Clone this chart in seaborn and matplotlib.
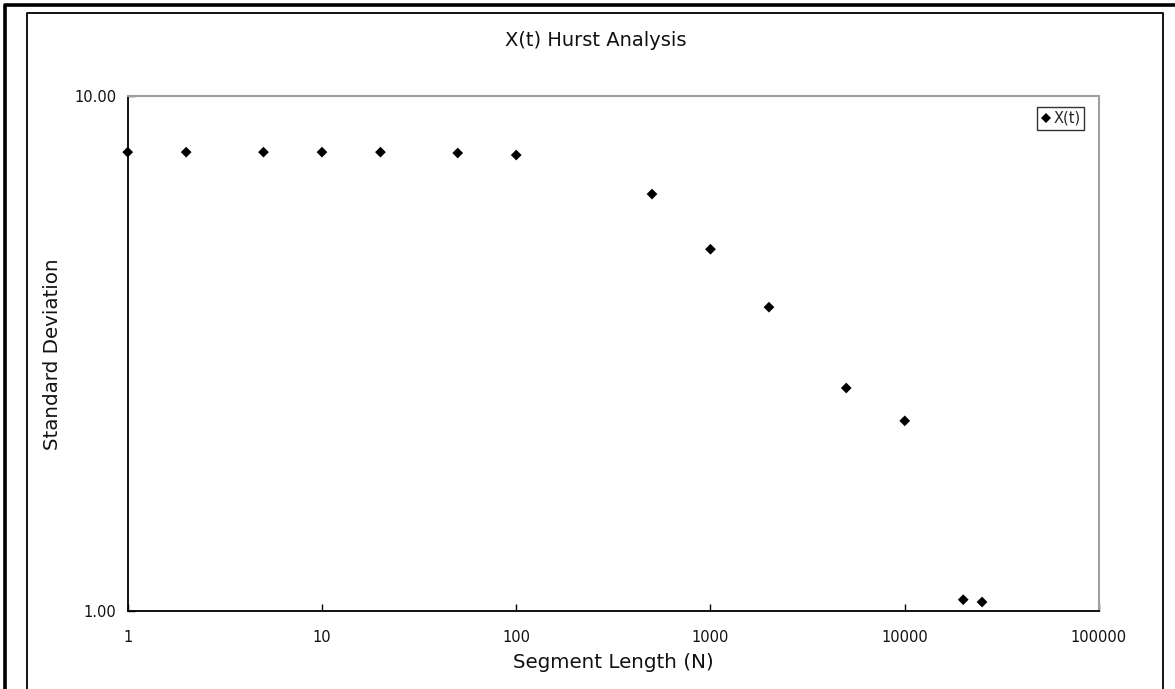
import matplotlib
matplotlib.use("Agg")
import matplotlib.pyplot as plt
import seaborn as sns
import pandas as pd
from matplotlib.lines import Line2D
from matplotlib.ticker import FixedLocator, FixedFormatter, NullLocator

segment_length = [1, 2, 5, 10, 20, 50, 100, 500, 1000, 2000, 5000, 10000, 20000, 25000]
std_dev = [7.78, 7.78, 7.78, 7.78, 7.78, 7.75, 7.68, 6.45, 5.04, 3.89, 2.71, 2.34, 1.052, 1.041]
series_name = "X(t)"
x_ticks = [1, 10, 100, 1000, 10000, 100000]
x_tick_labels = ["1", "10", "100", "1000", "10000", "100000"]
y_ticks = [1, 10]
y_tick_labels = ["1.00", "10.00"]

df = pd.DataFrame({"N": segment_length, "sd": std_dev, "series": series_name})

sns.set_theme(style="white")
plt.rcParams["font.family"] = ["DejaVu Sans"]

fig = plt.figure(figsize=(11.75, 6.89), dpi=100)
ax = fig.add_axes([127.7 / 1175, 1 - 611 / 689, (1099 - 127.7) / 1175, (611 - 96) / 689])

sns.scatterplot(data=df, x="N", y="sd", hue="series", palette=["black"], marker="D",
                s=30, edgecolor="black", linewidth=0, ax=ax, clip_on=False, zorder=5)

ax.set_xscale("log")
ax.set_yscale("log")
ax.set_xlim(1, 100000)
ax.set_ylim(1, 10)
ax.xaxis.set_major_locator(FixedLocator(x_ticks))
ax.xaxis.set_major_formatter(FixedFormatter(x_tick_labels))
ax.xaxis.set_minor_locator(NullLocator())
ax.yaxis.set_major_locator(FixedLocator(y_ticks))
ax.yaxis.set_major_formatter(FixedFormatter(y_tick_labels))
ax.yaxis.set_minor_locator(NullLocator())
ax.tick_params(axis="x", direction="in", length=5, width=1, color="black",
               labelsize=10.5, pad=14, labelcolor="#111111", bottom=True)
ax.tick_params(axis="y", direction="in", length=5, width=1, color="black",
               labelsize=10.5, pad=8, labelcolor="#111111", left=True)
ax.set_xlabel("")
ax.set_ylabel("")

for side in ["left", "bottom"]:
    ax.spines[side].set_color("black")
    ax.spines[side].set_linewidth(1.3)
for side in ["top", "right"]:
    ax.spines[side].set_color("#a0a0a0")
    ax.spines[side].set_linewidth(1.5)
ax.grid(False)

leg = ax.legend(loc="upper right", bbox_to_anchor=(0.985, 0.978), frameon=True,
                fontsize=10.5, handletextpad=0.1, borderpad=0.25, handlelength=0.8,
                fancybox=False, markerscale=0.85, borderaxespad=0)
leg.get_frame().set_edgecolor("black")
leg.get_frame().set_linewidth(1)

fig.text(596 / 1175, 1 - 40 / 689, "X(t) Hurst Analysis", ha="center", va="center",
         fontsize=14, color="#111111")
fig.text(613 / 1175, 1 - 662 / 689, "Segment Length (N)", ha="center", va="center",
         fontsize=14.3, color="#111111")
fig.text(53 / 1175, 1 - 354 / 689, "Standard Deviation", ha="center", va="center",
         rotation=90, fontsize=14.3, color="#111111")

# chart frames
fig.add_artist(Line2D([27 / 1175, 27 / 1175, 1163 / 1175, 1163 / 1175],
                      [0, 1 - 13 / 689, 1 - 13 / 689, 0], color="black", lw=1.3,
                      transform=fig.transFigure))
fig.add_artist(Line2D([5 / 1175, 5 / 1175, 1.0], [0, 1 - 5 / 689, 1 - 5 / 689],
                      color="black", lw=2.6, transform=fig.transFigure))

fig.savefig("out.png", dpi=100)
